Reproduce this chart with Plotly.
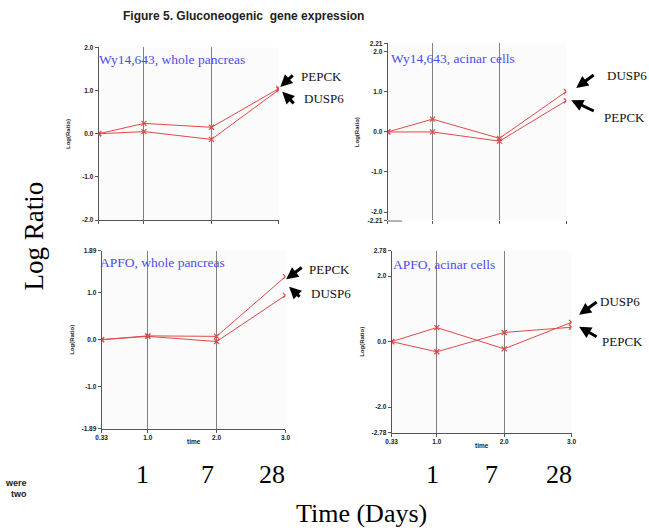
import plotly.graph_objects as go

W, H = 649, 530

time = [0.33, 1.0, 2.0, 3.0]
x_tick_labels = ["0.33", "1.0", "2.0", "3.0"]

# Wy14,643, whole pancreas
wy_whole_pepck = [0.0, 0.24, 0.15, 1.05]
wy_whole_dusp6 = [0.0, 0.05, -0.13, 1.02]
# Wy14,643, acinar cells
wy_acinar_dusp6 = [0.0, 0.32, -0.16, 1.01]
wy_acinar_pepck = [0.0, 0.0, -0.23, 0.78]
# APFO, whole pancreas
apfo_whole_pepck = [0.0, 0.08, 0.07, 1.34]
apfo_whole_dusp6 = [0.0, 0.07, -0.04, 0.94]
# APFO, acinar cells
apfo_acinar_dusp6 = [0.0, 0.43, -0.22, 0.59]
apfo_acinar_pepck = [0.0, -0.31, 0.28, 0.44]

y_ticks_1 = [-2.0, -1.0, 0.0, 1.0, 2.0]
y_ticks_2 = [-2.21, -2.0, -1.0, 0.0, 1.0, 2.0, 2.21]
y_ticks_3 = [-1.89, -1.0, 0.0, 1.0, 1.89]
y_ticks_4 = [-2.78, -2.0, 0.0, 2.0, 2.78]

panel_titles = ["Wy14,643, whole pancreas", "Wy14,643, acinar cells",
                "APFO, whole pancreas", "APFO, acinar cells"]
day_labels = ["1", "7", "28"]

RED = "#e04848"
BLUE = "#4b4bf2"
SERIF = "Liberation Serif"
SANS = "Liberation Sans"

# pixel boxes (x0, x1, y0_top, y1_bottom)
boxes = [(94.3, 277.7, 44, 219), (388.3, 570, 40, 219.3),
         (97.3, 284.3, 250, 430.3), (392.3, 575.3, 250, 434.3)]
title_pos = [(94, 56), (391, 55), (95, 262), (393, 264)]
series = [(wy_whole_pepck, wy_whole_dusp6), (wy_acinar_dusp6, wy_acinar_pepck),
          (apfo_whole_pepck, apfo_whole_dusp6), (apfo_acinar_dusp6, apfo_acinar_pepck)]
yticks = [y_ticks_1, y_ticks_2, y_ticks_3, y_ticks_4]

def px(x):
    return x / W

def py(y):
    return 1 - y / H

def fmt(v):
    return f"{v:.2f}" if abs(round(v, 1) - v) > 1e-9 else f"{v:.1f}"

def text_ann(text, x, y, size, color="#000", family=SERIF, xanchor="center",
             weight="normal", angle=0):
    return dict(text=text, x=px(x), y=py(y), xref="paper", yref="paper",
                xanchor=xanchor, yanchor="middle", showarrow=False, textangle=angle,
                borderpad=0, font=dict(family=family, size=size, color=color, weight=weight))

fig = go.Figure()
layout = {}
annotations = []
shapes = []

for i, ((x0, x1, yt, yb), (s1, s2), yt_vals) in enumerate(zip(boxes, series, yticks)):
    n = "" if i == 0 else str(i + 1)
    xa, ya = "x" + n, "y" + n
    for s in (s1, s2):
        fig.add_trace(go.Scatter(
            x=time, y=s, mode="lines+markers", xaxis=xa, yaxis=ya,
            line=dict(color=RED, width=1),
            marker=dict(symbol="x-thin", size=5, line=dict(color=RED, width=1.2)),
            showlegend=False, hoverinfo="skip"))
    bottom = i >= 2
    layout["xaxis" + n] = dict(
        domain=[px(x0), px(x1)], anchor=ya, range=[0.33, 3.0],
        tickvals=time, ticktext=x_tick_labels, showticklabels=bottom,
        tickfont=dict(family=SANS, size=6.5, color="#222", weight="bold"),
        ticks="outside", ticklen=3, tickcolor="#555",
        showgrid=True, gridcolor="#808080", gridwidth=1,
        showline=(i != 1), linecolor="#555", linewidth=1,
        zeroline=False, fixedrange=True,
    )
    layout["yaxis" + n] = dict(
        domain=[py(yb), py(yt)], anchor=xa, range=[yt_vals[0], yt_vals[-1]],
        tickvals=yt_vals, ticktext=[fmt(v) for v in yt_vals],
        tickfont=dict(family=SANS, size=6.5, color="#222", weight="bold"),
        ticks="outside", ticklen=3, tickcolor="#555",
        showgrid=False, showline=True, linecolor="#555", linewidth=1,
        zeroline=False, fixedrange=True,
    )
    tx, ty = title_pos[i]
    annotations.append(text_ann(panel_titles[i], tx, ty, 13.5, BLUE, xanchor="left"))
    annotations.append(text_ann("Log(Ratio)", x0 - 31, (yt + yb) / 2, 6, "#222", SANS,
                                weight="bold", angle=-90))
    if bottom:
        annotations.append(text_ann("time", (x0 + x1) / 2, yb + 13, 6.5, "#222", SANS,
                                    weight="bold"))

# short stub at bottom of panel 2
shapes.append(dict(type="line", xref="paper", yref="paper", x0=px(388.3), x1=px(403),
                   y0=py(220), y1=py(220), line=dict(color="#999", width=1.5)))

# gene labels with arrows: (text, text_x, text_y, tip_x, tip_y, tail_x, tail_y)
gene_labels = [
    ("PEPCK", 299, 73, 279, 84, 293, 71),
    ("DUSP6", 302, 96, 281, 89, 294, 102),
    ("DUSP6", 610, 72, 580, 85, 599, 71),
    ("PEPCK", 607, 115, 575, 97.5, 599, 109),
    ("PEPCK", 307, 269, 285, 279, 302, 266),
    ("DUSP6", 309, 293, 288, 286.5, 300, 298),
    ("DUSP6", 603, 301, 583, 315, 602, 301),
    ("PEPCK", 605, 342, 583, 327, 602, 338),
]
for txt, tx, ty, hx, hy, ax, ay in gene_labels:
    annotations.append(text_ann(txt, tx, ty, 13, "#111", xanchor="left"))
    annotations.append(dict(text="", x=px(hx), y=py(hy), xref="paper", yref="paper",
                            showarrow=True, ax=ax - hx, ay=ay - hy, arrowhead=2,
                            arrowsize=0.8, arrowwidth=3, arrowcolor="#000", standoff=0))

# large labels
annotations.append(text_ann("Log Ratio", 28, 235, 27, angle=-90))
for cx_list in ([139, 205, 271], [434, 494, 563]):
    for lab, cx in zip(day_labels, cx_list):
        annotations.append(text_ann(lab, cx, 477, 26))
annotations.append(text_ann("Time (Days)", 362, 516, 26))
annotations.append(text_ann("Figure 5. Gluconeogenic\u00a0 gene expression", 118, 12, 12,
                            "#222", SANS, xanchor="left", weight="bold"))
annotations.append(text_ann("were", 22, 485, 9, "#222", SANS, xanchor="right", weight="bold"))
annotations.append(text_ann("two", 22, 497, 9, "#222", SANS, xanchor="right", weight="bold"))

fig.update_layout(
    width=W, height=H, margin=dict(l=0, r=0, t=0, b=0),
    paper_bgcolor="white", plot_bgcolor="#fbfbfb",
    annotations=annotations, shapes=shapes, **layout,
)

fig.write_html("out.html", config={"displayModeBar": False})
